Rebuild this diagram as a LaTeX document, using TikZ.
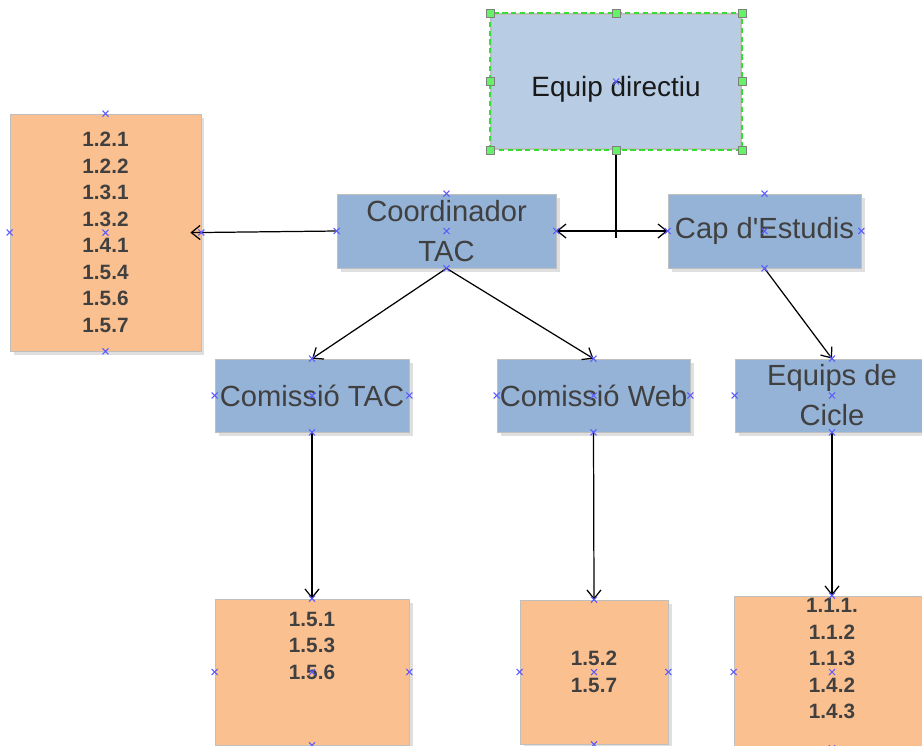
\documentclass[tikz,border=0pt]{standalone}
\usepackage{fontspec}
\setmainfont{Liberation Sans}
\usetikzlibrary{arrows.meta,shadows}
\definecolor{boxblue}{HTML}{95B3D7}
\definecolor{topblue}{HTML}{B8CCE4}
\definecolor{boxorange}{HTML}{FAC090}
\definecolor{boxedge}{HTML}{BFBFBF}
\definecolor{txtgray}{HTML}{404040}
\definecolor{markblue}{HTML}{5A5AFF}
\definecolor{handlegreen}{HTML}{66F266}
\definecolor{selgreen}{HTML}{33DD33}
\def\xmarks(#1)#2{\foreach \a in {#2}{\draw[xmk,shift={(#1.\a)}] (-3,-3) -- (3,3) (-3,3) -- (3,-3);}}

\begin{document}
\begin{tikzpicture}[x=0.02cm,y=-0.02cm,
	shade/.style={drop shadow={shadow xshift=2pt,shadow yshift=-2pt,fill=black!25,opacity=0.5}},
	bluebox/.style={draw=boxedge,fill=boxblue,text=txtgray,align=center,inner sep=0pt,
		font=\fontsize{16.6}{22.7}\selectfont,shade},
	listbox/.style={draw=boxedge,fill=boxorange,text=txtgray,align=center,inner sep=0pt,
		font=\fontsize{11.8}{15.1}\selectfont\bfseries,shade},
	topbox/.style={draw=boxedge,line width=1.2pt,fill=topblue,text=black!90,inner sep=0pt,
		font=\fontsize{15.9}{22.7}\selectfont},
	conn/.style={-{Straight Barb[length=5pt,width=8pt]},line width=0.7pt},
	xmk/.style={markblue,line width=0.6pt},
	handle/.style={draw=gray,fill=handlegreen,minimum size=0.16cm,inner sep=0pt},
	seldash/.style={selgreen,line width=0.7pt,dash pattern=on 3pt off 2pt}]
	%%%%% START %%%%%
	\clip (0,0) rectangle (922,745);
	
	% boxes
	\node[topbox,minimum width=5cm,minimum height=2.7cm] (eq) at (616,81.5)
		{\raisebox{-3pt}[0.72em][0pt]{Equip directiu}};
	\node[listbox,minimum width=3.82cm,minimum height=4.74cm] (lst) at (105.5,232.5)
		{1.2.1\\1.2.2\\1.3.1\\1.3.2\\1.4.1\\1.5.4\\1.5.6\\1.5.7};
	\node[bluebox,minimum width=4.38cm,minimum height=1.48cm] (coord) at (446.5,231) {Coordinador\\TAC};
	\node[bluebox,minimum width=3.86cm,minimum height=1.48cm] (cap) at (764.5,231) {Cap d\textquotesingle Estudis};
	\node[bluebox,minimum width=3.88cm,minimum height=1.46cm] (ctac) at (312,395.5) {Comissió TAC};
	\node[bluebox,minimum width=3.86cm,minimum height=1.46cm] (cweb) at (593.5,395.5) {Comissió Web};
	\node[bluebox,minimum width=3.88cm,minimum height=1.46cm] (cicle) at (832,395.5) {Equips de\\Cicle};
	\node[listbox,minimum width=3.88cm,minimum height=2.92cm] (ltac) at (312,672) {1.5.1\\1.5.3\\1.5.6\\~\\~};
	\node[listbox,minimum width=2.96cm,minimum height=2.88cm] (lweb) at (594,672) {1.5.2\\1.5.7};
	\node[listbox,minimum width=3.92cm,minimum height=3.04cm] (lcicle) at (832,672)
		{1.1.1.\\1.1.2\\1.1.3\\1.4.2\\1.4.3\\~};
	
	% connectors
	\coordinate (jn) at (616,238);
	\draw[line width=0.7pt] (eq.south) -- (jn);
	\draw[line width=0.7pt,{Straight Barb[length=5pt,width=8pt]}-{Straight Barb[length=5pt,width=8pt]}] (coord.east) -- (cap.west);
	\draw[conn,shorten >=-0.22cm] (coord.west) -- (lst.east);
	\draw[conn] (coord.south) -- (ctac.north);
	\draw[conn] (coord.south) -- (cweb.north);
	\draw[conn] (cap.south) -- (cicle.north);
	\draw[conn] (ctac.south) -- (ltac.north);
	\draw[conn] (cweb.south) -- (lweb.north);
	\draw[conn] (cicle.south) -- (lcicle.north);
	
	% selection of the top box
	\draw[seldash] (eq.south west) rectangle (eq.north east);
	\foreach \a/\n in {north west/nw,north/n,north east/ne,east/e,south east/se,south/s,south west/sw,west/w}
		\node[handle] (h\n) at (eq.\a) {};
	
	% anchor marks
	\xmarks(eq){center}
	\xmarks(lst){north,south,east,west,center}
	\xmarks(coord){north,south,east,west,center}
	\xmarks(cap){north,south,east,west,center}
	\xmarks(ctac){north,south,east,west,center}
	\xmarks(cweb){north,south,east,west,center}
	\xmarks(cicle){north,south,east,west,center}
	\xmarks(ltac){north,south,east,west,center}
	\xmarks(lweb){north,south,east,west,center}
	\xmarks(lcicle){north,south,east,west,center}
	
	%%%%% END %%%%%
\end{tikzpicture}
\end{document}
